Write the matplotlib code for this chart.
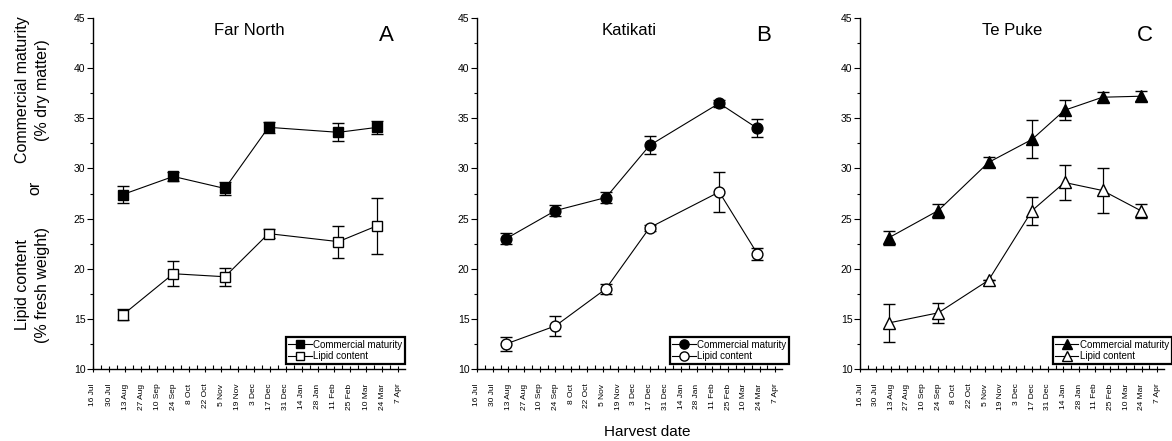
import matplotlib
matplotlib.use("Agg")
import matplotlib.pyplot as plt
from matplotlib.ticker import MultipleLocator, FixedLocator
from matplotlib.lines import Line2D

plt.rcParams['font.family'] = ['Liberation Sans', 'DejaVu Sans']

# x positions: days after 16 Jul
tick_labels = ["16 Jul", "30 Jul", "13 Aug", "27 Aug", "10 Sep", "24 Sep", "8 Oct",
               "22 Oct", "5 Nov", "19 Nov", "3 Dec", "17 Dec", "31 Dec", "14 Jan",
               "28 Jan", "11 Feb", "25 Feb", "10 Mar", "24 Mar", "7 Apr"]

# Far North (A)
a_days = [26, 70, 115, 153, 214, 248]
a_cm = [27.4, 29.2, 28.0, 34.1, 33.6, 34.1]
a_cm_err = [0.8, 0.45, 0.6, 0.55, 0.9, 0.65]
a_lip = [15.4, 19.5, 19.2, 23.5, 22.7, 24.3]
a_lip_err = [0.55, 1.25, 0.9, 0.45, 1.6, 2.8]

# Katikati (B)
b_days = [26, 70, 115, 154, 216, 250]
b_cm = [23.0, 25.8, 27.1, 32.3, 36.5, 34.0]
b_cm_err = [0.55, 0.55, 0.55, 0.9, 0.35, 0.9]
b_lip = [12.5, 14.3, 18.0, 24.1, 27.65, 21.5]
b_lip_err = [0.7, 1.0, 0.5, 0.3, 2.0, 0.6]

# Te Puke (C)
c_days = [26, 70, 115, 154, 183, 217, 251]
c_cm = [23.1, 25.8, 30.6, 32.9, 35.8, 37.1, 37.2]
c_cm_err = [0.7, 0.7, 0.5, 1.9, 1.0, 0.5, 0.5]
c_lip = [14.6, 15.6, 18.85, 25.8, 28.6, 27.8, 25.8]
c_lip_err = [1.9, 1.0, 0.0, 1.4, 1.7, 2.2, 0.7]

series_labels = ["Commercial maturity", "Lipid content"]

panels = [
    ("Far North", "A", a_days, a_cm, a_cm_err, a_lip, a_lip_err, 's', 7.3),
    ("Katikati", "B", b_days, b_cm, b_cm_err, b_lip, b_lip_err, 'o', 7.8),
    ("Te Puke", "C", c_days, c_cm, c_cm_err, c_lip, c_lip_err, '^', 8.3),
]

W, H = 1172, 441
fig = plt.figure(figsize=(W / 100, H / 100), dpi=100)

# axes boxes in pixels: left, right
boxes = [(93, 405), (477, 782), (860, 1164)]
top_px, bot_px = 18, 369
legend_anchor = [1.0, 1.023, 1.026]

for (title, letter, days, cm, cme, lip, lipe, mk, ms), (l, r), la in zip(panels, boxes, legend_anchor):
    ax = fig.add_axes([l / W, 1 - bot_px / H, (r - l) / W, (bot_px - top_px) / H])
    for y, e, fc in [(cm, cme, 'black'), (lip, lipe, 'white')]:
        ax.errorbar(days, y, yerr=e, color='black', lw=0.8, marker=mk, ms=ms,
                    mfc=fc, mec='black', mew=1.0, capsize=4.5, elinewidth=0.9,
                    capthick=0.9, zorder=3)
    ax.set_xlim(0, 272)
    ax.set_ylim(10, 45)
    ax.spines['top'].set_visible(False)
    ax.spines['right'].set_visible(False)
    ax.spines['left'].set_linewidth(1.0)
    ax.spines['bottom'].set_linewidth(1.0)
    ax.xaxis.set_major_locator(FixedLocator([14 * i for i in range(len(tick_labels))]))
    ax.set_xticklabels(tick_labels, rotation=90, fontsize=6)
    ax.xaxis.set_minor_locator(MultipleLocator(7))
    ax.yaxis.set_major_locator(MultipleLocator(5))
    ax.yaxis.set_minor_locator(MultipleLocator(2.5))
    ax.tick_params(axis='x', which='major', direction='inout', length=5, width=0.8, pad=8)
    ax.tick_params(axis='x', which='minor', direction='in', length=3, width=0.8)
    ax.tick_params(axis='y', which='major', direction='out', length=4, width=0.8,
                   labelsize=7.5, pad=1.5)
    ax.tick_params(axis='y', which='minor', direction='out', length=2.5, width=0.8)
    ax.text(0.5, 0.985, title, transform=ax.transAxes, ha='center', va='top', fontsize=12)
    ax.text(0.965, 0.98, letter, transform=ax.transAxes, ha='right', va='top', fontsize=16)
    handles = [Line2D([], [], color='black', lw=0.8, marker=mk, ms=ms * 0.85,
                      mfc=fc, mec='black', mew=1.0) for fc in ('black', 'white')]
    leg = ax.legend(handles, series_labels, loc='lower right', bbox_to_anchor=(la, 0.015),
                    fontsize=7, frameon=True, fancybox=False, framealpha=1,
                    edgecolor='black', handlelength=2.4, handletextpad=0.2,
                    borderpad=0.25, labelspacing=0.15, borderaxespad=0.0)
    leg.get_frame().set_linewidth(1.6)

fig.text(22 / W, 1 - 90 / H, "Commercial maturity", rotation=90, ha='center', va='center', fontsize=11.5)
fig.text(43 / W, 1 - 90 / H, "(% dry matter)", rotation=90, ha='center', va='center', fontsize=11.5)
fig.text(35 / W, 1 - 188 / H, "or", rotation=90, ha='center', va='center', fontsize=11.5)
fig.text(22 / W, 1 - 285 / H, "Lipid content", rotation=90, ha='center', va='center', fontsize=11.5)
fig.text(43 / W, 1 - 285 / H, "(% fresh weight)", rotation=90, ha='center', va='center', fontsize=11.5)
fig.text(647 / W, 1 - 432 / H, "Harvest date", ha='center', va='center', fontsize=11)

fig.savefig("out.png", dpi=100)
